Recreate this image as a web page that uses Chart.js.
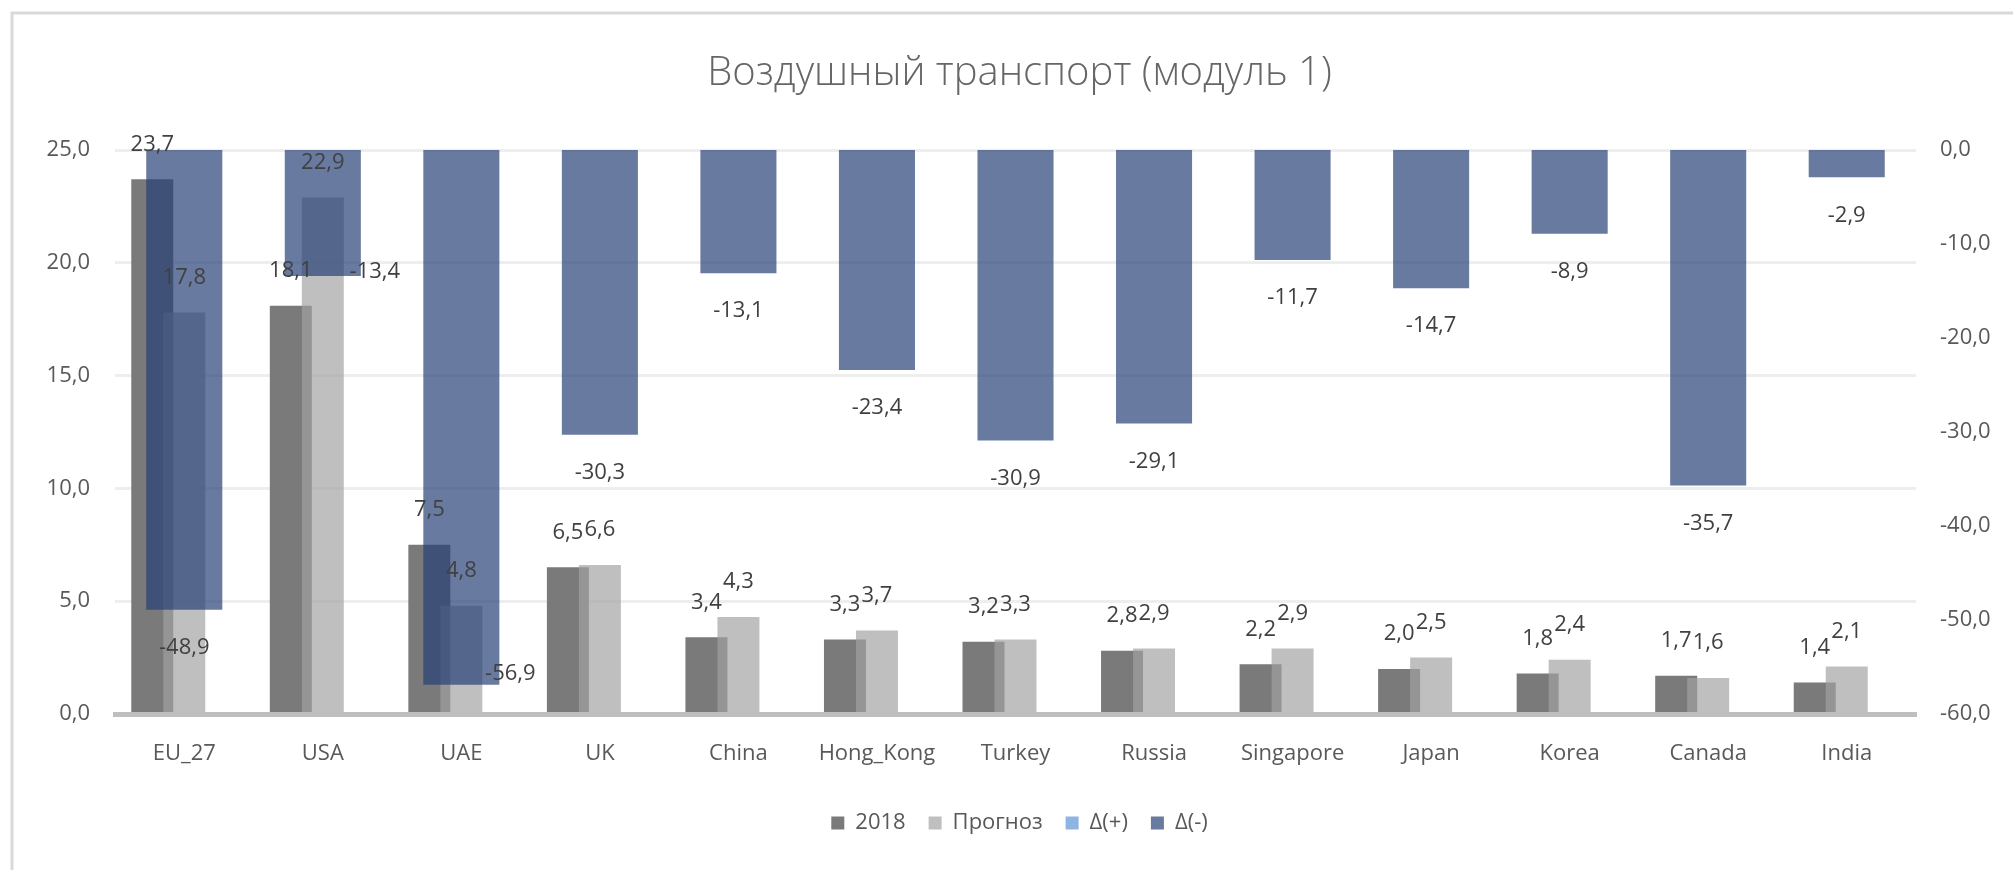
<!DOCTYPE html>
<html>
<head>
<meta charset="utf-8">
<script src="https://cdn.jsdelivr.net/npm/chart.js@4.4.1/dist/chart.umd.min.js"></script>
<style>
  html, body { margin: 0; padding: 0; background: #ffffff; }
  canvas { display: block; }
</style>
</head>
<body>
<canvas id="chart" width="2013" height="870"></canvas>
<script>
// ---------- data ----------
const categories = ['EU_27', 'USA', 'UAE', 'UK', 'China', 'Hong_Kong', 'Turkey', 'Russia', 'Singapore', 'Japan', 'Korea', 'Canada', 'India'];
const values2018 = [23.7, 18.1, 7.5, 6.5, 3.4, 3.3, 3.2, 2.8, 2.2, 2.0, 1.8, 1.7, 1.4];
const valuesForecast = [17.8, 22.9, 4.8, 6.6, 4.3, 3.7, 3.3, 2.9, 2.9, 2.5, 2.4, 1.6, 2.1];
const valuesDeltaPlus = [null, null, null, null, null, null, null, null, null, null, null, null, null];
const valuesDeltaMinus = [-48.9, -13.4, -56.9, -30.3, -13.1, -23.4, -30.9, -29.1, -11.7, -14.7, -8.9, -35.7, -2.9];
const leftTicks = [0, 5, 10, 15, 20, 25];
const rightTicks = [-60, -50, -40, -30, -20, -10, 0];
const seriesNames = ['2018', 'Прогноз', 'Δ(+)', 'Δ(-)'];
const chartTitle = 'Воздушный транспорт (модуль 1)';

// ---------- helpers ----------
const FONT = "'Open Sans', 'Noto Sans', sans-serif";
const fmt = v => Number(v).toFixed(1).replace('.', ',');

const framePlugin = {
  id: 'frame',
  beforeDraw(chart) {
    const ctx = chart.ctx;
    ctx.save();
    ctx.fillStyle = '#ffffff';
    ctx.fillRect(0, 0, chart.width, chart.height);
    ctx.strokeStyle = '#d9d9d9';
    ctx.lineWidth = 3;
    ctx.beginPath();
    ctx.moveTo(12, chart.height);
    ctx.lineTo(12, 13);
    ctx.lineTo(chart.width, 13);
    ctx.stroke();
    ctx.restore();
  }
};

const valueLabelPlugin = {
  id: 'valueLabels',
  afterDatasetsDraw(chart, args, opts) {
    const ctx = chart.ctx;
    ctx.save();
    ctx.font = `22px ${FONT}`;
    ctx.fillStyle = '#404040';
    ctx.textAlign = 'center';
    ctx.textBaseline = 'middle';
    opts.datasets.forEach(di => {
      const meta = chart.getDatasetMeta(di);
      const data = chart.data.datasets[di].data;
      meta.data.forEach((bar, i) => {
        const v = data[i];
        if (v === null || v === undefined) return;
        const shift = (opts.shifts[di] || {})[chart.data.labels[i]];
        let x = bar.x, y;
        if (shift) {
          x += shift[0];
          y = bar.y + shift[1];
        } else {
          y = v >= 0 ? bar.y - opts.above : bar.y + opts.below;
        }
        ctx.fillText(fmt(v), x, y);
      });
    });
    ctx.restore();
  }
};

new Chart(document.getElementById('chart'), {
  type: 'bar',
  data: {
    labels: categories,
    datasets: [
      {
        label: seriesNames[0], data: values2018, yAxisID: 'y',
        backgroundColor: 'rgb(122,122,122)', borderWidth: 0,
        order: 2, stack: 's2018', grouped: true,
        categoryPercentage: 0.924, barPercentage: 0.656
      },
      {
        label: seriesNames[1], data: valuesForecast, yAxisID: 'y',
        backgroundColor: 'rgba(161,161,161,0.684)', borderWidth: 0,
        order: 1, grouped: false,
        categoryPercentage: 1, barPercentage: 0.303
      },
      {
        label: seriesNames[2], data: valuesDeltaPlus, yAxisID: 'y2',
        backgroundColor: 'rgb(141,180,226)', borderWidth: 0,
        order: 3, stack: 'sPlus', grouped: true,
        categoryPercentage: 0.924, barPercentage: 0.656
      },
      {
        label: seriesNames[3], data: valuesDeltaMinus, yAxisID: 'y2',
        backgroundColor: 'rgba(37,63,118,0.69)', borderWidth: 0,
        order: 0, grouped: false,
        categoryPercentage: 1, barPercentage: 0.549
      }
    ]
  },
  options: {
    responsive: false,
    animation: false,
    devicePixelRatio: 1,
    layout: { padding: { left: 26, right: 0, top: 0, bottom: 26 } },
    plugins: {
      title: {
        display: true,
        text: chartTitle,
        color: '#666666',
        font: { family: FONT, size: 40, weight: '300' },
        padding: { top: 50, bottom: 52 }
      },
      legend: {
        position: 'bottom',
        labels: {
          boxWidth: 13, boxHeight: 13, padding: 23,
          color: '#595959',
          font: { family: FONT, size: 22 },
          sort: (a, b) => a.datasetIndex - b.datasetIndex
        }
      },
      tooltip: { enabled: false },
      valueLabels: {
        datasets: [0, 1, 3],
        above: 35,
        below: 38,
        shifts: { 3: { 'USA': [52, -4], 'UAE': [49, -11] } }
      }
    },
    scales: {
      x: {
        type: 'category',
        offset: true,
        grid: { display: false, drawTicks: false },
        border: { display: true, color: '#bfbfbf', width: 5, z: 1 },
        ticks: { color: '#595959', font: { family: FONT, size: 22 }, padding: 27, maxRotation: 0, autoSkip: false },
        afterFit: s => { s.height = 75; }
      },
      y: {
        position: 'left',
        min: leftTicks[0], max: leftTicks[leftTicks.length - 1],
        afterBuildTicks: s => { s.ticks = leftTicks.map(v => ({ value: v })); },
        ticks: { callback: v => fmt(v), color: '#595959', font: { family: FONT, size: 22 }, padding: 25 },
        grid: { color: '#eeeeee', lineWidth: 3, drawTicks: false },
        border: { display: false },
        afterFit: s => { s.width = 89; }
      },
      y2: {
        position: 'right',
        min: rightTicks[0], max: rightTicks[rightTicks.length - 1],
        afterBuildTicks: s => { s.ticks = rightTicks.map(v => ({ value: v })); },
        ticks: { callback: v => fmt(v), color: '#595959', font: { family: FONT, size: 22 }, padding: 24 },
        grid: { display: false, drawTicks: false },
        border: { display: false },
        afterFit: s => { s.width = 97; }
      }
    }
  },
  plugins: [framePlugin, valueLabelPlugin]
});
</script>
</body>
</html>
